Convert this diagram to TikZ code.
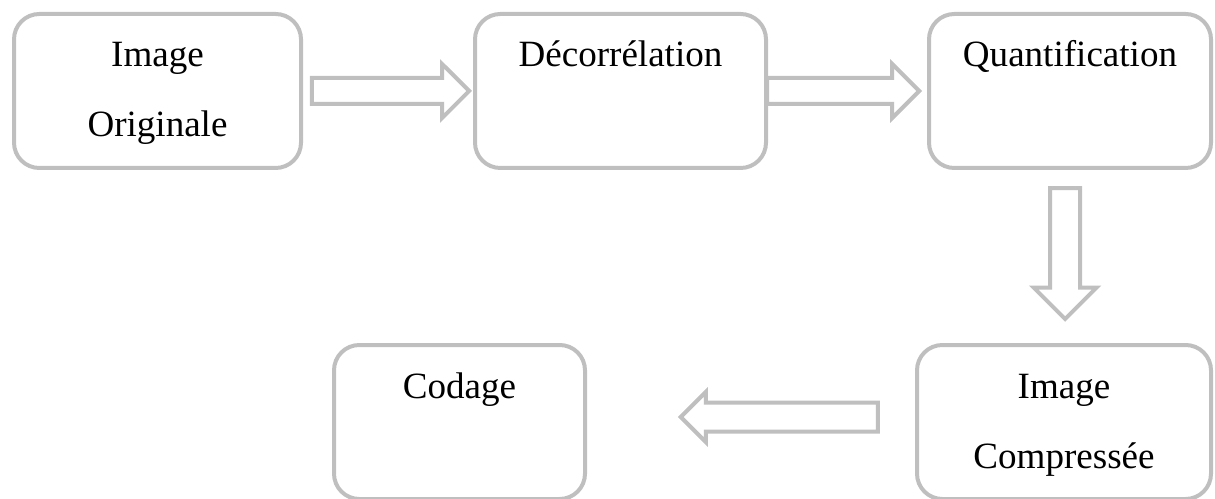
\documentclass[tikz,border=0pt]{standalone}
\usepackage{fontspec}
\setmainfont{Liberation Serif}
\usetikzlibrary{positioning,calc,shapes.arrows}

\begin{document}
\begin{tikzpicture}[
    x=0.75pt, y=-0.75pt,
    font=\fontsize{27.8pt}{52.5pt}\selectfont,
    box/.style={draw=framec, line width=3pt, rounded corners=19pt, align=center,
      inner sep=0pt, minimum height=115.5pt, text height=0pt, text depth=36pt},
    twoline/.style={text height=69pt, text depth=0pt},
    hollow/.style={single arrow, draw=framec, line width=3pt, fill=white, inner sep=0pt,
      text height=16.5pt, text depth=0pt, single arrow head indent=0pt,
      single arrow head extend=10.5pt}
  ]
    \definecolor{framec}{RGB}{191,191,191}
    \useasboundingbox (0,0) rectangle (1215,499);

    \node[box, twoline, minimum width=215.25pt] (orig) at (157.5,91) {Image\\Originale};
    \node[box, minimum width=218.25pt] (decor) at (620.5,91) {Décorrélation};
    \node[box, minimum width=211.5pt] (quant) at (1070,91) {Quantification};
    \node[box, twoline, minimum width=220.5pt] (comp) at (1064,422) {Image\\Compressée};
    \node[box, minimum width=188.25pt] (codage) at (459.5,422) {Codage};

    \node[hollow, minimum height=118pt] (a1) at ([xshift=-3pt]$(orig.east)!0.5!(decor.west)$) {};
    \node[hollow, minimum height=114pt] (a2) at ([xshift=-4.5pt]$(decor.east)!0.47!(quant.west)$) {};
    \node[hollow, minimum height=98.25pt, text height=19.5pt, single arrow head extend=12.4pt,
      rotate=-90] (a3) at ([xshift=-1.5pt,yshift=5.25pt]$(quant.south)!0.48!(comp.north)$) {};
    \node[hollow, minimum height=147.75pt, text height=18.75pt, single arrow head extend=7.9pt,
      rotate=180] (a4) at ([xshift=4.5pt,yshift=3.75pt]$(codage.east)!0.59!(comp.west)$) {};
  \end{tikzpicture}
\end{document}
